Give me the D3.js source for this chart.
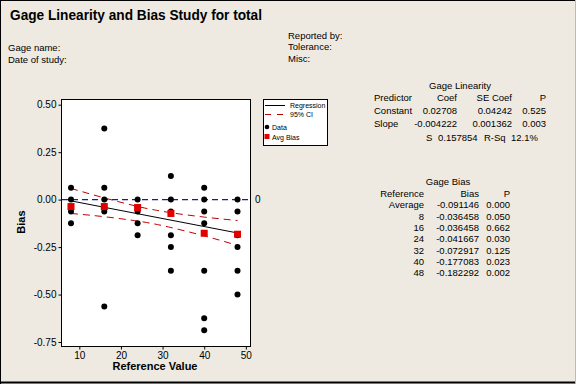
<!DOCTYPE html>
<html>
<head>
<meta charset="utf-8">
<script src="https://cdn.jsdelivr.net/npm/d3@7.9.0/dist/d3.min.js"></script>
<style>
  html, body { margin: 0; padding: 0; background: #eeeae1; }
  svg { display: block; font-family: "Liberation Sans", Arial, sans-serif; }
</style>
</head>
<body>
<svg id="chart" width="576" height="384"></svg>
<script>
// reference values and the individual bias readings (distinct values visible)
const refValues = [8, 16, 24, 32, 40, 48];
const biasReadings = [
  [0.0625, 0, -0.0625, -0.125],
  [0.375, 0.0625, 0, -0.0625, -0.5625],
  [0, -0.0625, -0.125, -0.1875],
  [0.125, 0, -0.0625, -0.1875, -0.25, -0.375],
  [0.0625, 0, -0.0625, -0.125, -0.375, -0.625, -0.6875],
  [0, -0.0625, -0.1875, -0.25, -0.375, -0.5]
];
const avgBias = [-0.036458, -0.036458, -0.041667, -0.072917, -0.177083, -0.182292];

// regression and 95% CI band
const linCoef = [0.02708, -0.004222];
const ciX = [8, 16, 24, 28, 32, 40, 48];
const ciUpper = [0.059, 0.009, -0.036, -0.054, -0.069, -0.092, -0.110];
const ciLower = [-0.073, -0.090, -0.113, -0.128, -0.147, -0.191, -0.241];

const xTicks = [10, 20, 30, 40, 50];
const yTicks = [0.5, 0.25, 0, -0.25, -0.5, -0.75];
const yTickLabels = ['0.50', '0.25', '0.00', '-0.25', '-0.50', '-0.75'];

// tables
const linHeader = ['Predictor', 'Coef', 'SE Coef', 'P'];
const linRows = [
  ['Constant', '0.02708', '0.04242', '0.525'],
  ['Slope', '-0.004222', '0.001362', '0.003']
];
const fitStats = ['S', '0.157854', 'R-Sq', '12.1%'];
const biasHeader = ['Reference', 'Bias', 'P'];
const biasRows = [
  ['Average', '-0.091146', '0.000'],
  ['8', '-0.036458', '0.050'],
  ['16', '-0.036458', '0.662'],
  ['24', '-0.041667', '0.030'],
  ['32', '-0.072917', '0.125'],
  ['40', '-0.177083', '0.023'],
  ['48', '-0.182292', '0.002']
];

const svg = d3.select('#chart');
const W = 576, H = 384;
const FS = 9.5;

// outer frame
svg.append('rect').attr('x', 0).attr('y', 0).attr('width', W).attr('height', H).attr('fill', '#eeeae1');
svg.append('line').attr('x1', 0.5).attr('x2', 0.5).attr('y1', 0).attr('y2', H).attr('stroke', '#000');
svg.append('line').attr('x1', 0).attr('x2', W).attr('y1', 0.5).attr('y2', 0.5).attr('stroke', '#000');
svg.append('line').attr('x1', 0).attr('x2', W).attr('y1', 382.5).attr('y2', 382.5).attr('stroke', '#000').attr('stroke-width', 2);
svg.append('line').attr('x1', W - 0.5).attr('x2', W - 0.5).attr('y1', 0).attr('y2', H).attr('stroke', '#bbb');

// header text
svg.append('text').attr('x', 10).attr('y', 20)
  .attr('font-size', 15).attr('font-weight', 'bold')
  .attr('textLength', 252).attr('lengthAdjust', 'spacingAndGlyphs')
  .text('Gage Linearity and Bias Study for total');

const small = (x, y, t, anchor) => svg.append('text')
  .attr('x', x).attr('y', y).attr('font-size', FS)
  .attr('text-anchor', anchor || 'start').text(t);

small(8, 51, 'Gage name:');
small(8, 63, 'Date of study:');
small(288, 39, 'Reported by:');
small(288, 50, 'Tolerance:');
small(288, 62, 'Misc:');

// plot area
const plotL = 61, plotR = 250, plotT = 99, plotB = 346;
const x = d3.scaleLinear().domain([5.6, 51]).range([plotL, plotR]);
const y = d3.scaleLinear().domain([-0.771, 0.530]).range([plotB, plotT]);

svg.append('rect').attr('x', plotL + 0.5).attr('y', plotT + 0.5)
  .attr('width', plotR - plotL).attr('height', plotB - plotT)
  .attr('fill', '#fff').attr('stroke', '#000');

const xAxis = svg.append('g').attr('transform', `translate(0,${plotB + 0.5})`)
  .call(d3.axisBottom(x).tickValues(xTicks).tickSize(3).tickSizeOuter(0).tickPadding(2));
const yAxis = svg.append('g').attr('transform', `translate(${plotL + 0.5},0)`)
  .call(d3.axisLeft(y).tickValues(yTicks).tickSize(3).tickSizeOuter(0).tickPadding(2)
    .tickFormat((d, i) => yTickLabels[i]));
[xAxis, yAxis].forEach(g => {
  g.select('.domain').remove();
  g.selectAll('text').attr('font-size', 10).attr('fill', '#000')
    .attr('font-family', '"Liberation Sans", Arial, sans-serif');
  g.selectAll('line').attr('stroke', '#000');
});

svg.append('text').attr('x', 155).attr('y', 370).attr('text-anchor', 'middle')
  .attr('font-size', 11).attr('font-weight', 'bold').text('Reference Value');
svg.append('text').attr('transform', 'translate(25,222) rotate(-90)').attr('text-anchor', 'middle')
  .attr('font-size', 11).attr('font-weight', 'bold').text('Bias');

// zero reference line
svg.append('line').attr('x1', plotL + 1).attr('x2', plotR)
  .attr('y1', y(0)).attr('y2', y(0))
  .attr('stroke', '#1a1aa0').attr('stroke-width', 1.3).attr('stroke-dasharray', '6,4');
svg.append('text').attr('x', 255).attr('y', y(0) + 3.5).attr('font-size', 10).text('0');

// CI band
const ciLine = d3.line().x(d => x(d[0])).y(d => y(d[1])).curve(d3.curveNatural);
[ciUpper, ciLower].forEach(arr => {
  svg.append('path').datum(ciX.map((v, i) => [v, arr[i]]))
    .attr('d', ciLine).attr('fill', 'none')
    .attr('stroke', '#c00000').attr('stroke-width', 1).attr('stroke-dasharray', '7,5');
});

// regression line
const xEnds = d3.extent(refValues);
svg.append('path').datum(xEnds.map(v => [v, linCoef[0] + linCoef[1] * v]))
  .attr('d', d3.line().x(d => x(d[0])).y(d => y(d[1])))
  .attr('stroke', '#000').attr('stroke-width', 1).attr('fill', 'none');

// data points
const pts = refValues.flatMap((r, i) => biasReadings[i].map(b => [r, b]));
svg.append('g').selectAll('circle').data(pts).join('circle')
  .attr('cx', d => x(d[0])).attr('cy', d => y(d[1])).attr('r', 3).attr('fill', '#000');

// average bias
svg.append('g').selectAll('rect').data(refValues).join('rect')
  .attr('x', (d) => x(d) - 3.5).attr('y', (d, i) => y(avgBias[i]) - 3.5)
  .attr('width', 7).attr('height', 7).attr('fill', '#e00000');

// legend
const lg = svg.append('g').attr('font-size', 7);
lg.append('rect').attr('x', 263.5).attr('y', 99.5).attr('width', 64).attr('height', 46)
  .attr('fill', '#fff').attr('stroke', '#000');
lg.append('line').attr('x1', 265).attr('x2', 285).attr('y1', 105.5).attr('y2', 105.5).attr('stroke', '#000');
lg.append('text').attr('x', 290).attr('y', 108).text('Regression');
lg.append('line').attr('x1', 265).attr('x2', 285).attr('y1', 114.5).attr('y2', 114.5)
  .attr('stroke', '#c00000').attr('stroke-dasharray', '6,6');
lg.append('text').attr('x', 290).attr('y', 117).text('95% CI');
lg.append('circle').attr('cx', 267).attr('cy', 127).attr('r', 2.3).attr('fill', '#000');
lg.append('text').attr('x', 272).attr('y', 129.5).text('Data');
lg.append('rect').attr('x', 264.5).attr('y', 134).attr('width', 5).attr('height', 5).attr('fill', '#e00000');
lg.append('text').attr('x', 272).attr('y', 139.5).text('Avg Bias');

// Gage Linearity table
small(460, 89, 'Gage Linearity', 'middle');
const linX = [374, 457, 512, 546];
const linAnchor = ['start', 'end', 'end', 'end'];
[linHeader, ...linRows].forEach((row, r) => {
  row.forEach((t, c) => small(linX[c], 101 + r * 13, t, linAnchor[c]));
});
const statX = [426, 438, 484, 511];
fitStats.forEach((t, c) => small(statX[c], 141, t));

// Gage Bias table
small(448, 185, 'Gage Bias', 'middle');
const biasX = [424, 479, 510];
[biasHeader, ...biasRows].forEach((row, r) => {
  row.forEach((t, c) => small(biasX[c], 197 + r * 11.3, t, 'end'));
});
</script>
</body>
</html>
